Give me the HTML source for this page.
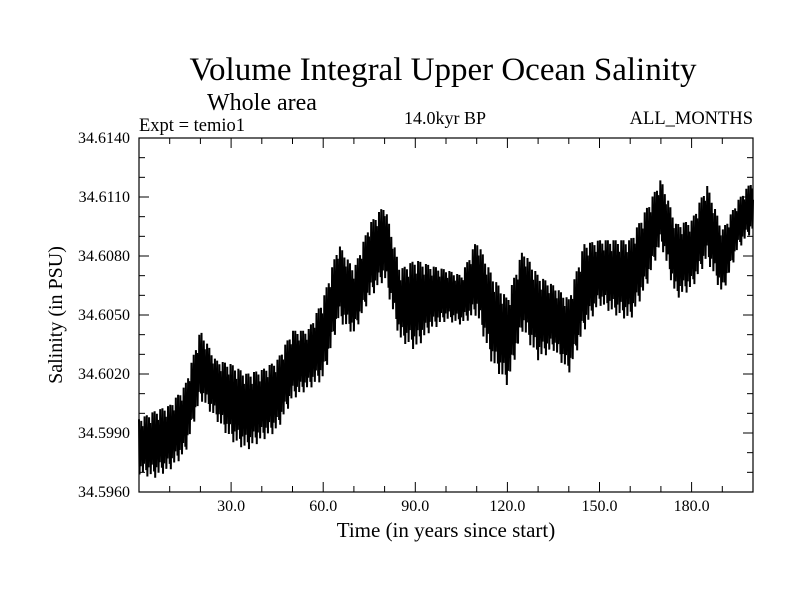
<!DOCTYPE html>
<html><head><meta charset="utf-8"><style>
body{margin:0;background:#fff}
svg{display:block;font-family:"Liberation Serif",serif}
</style></head><body>
<svg width="800" height="600" xmlns="http://www.w3.org/2000/svg">
<text x="443" y="80" font-size="33" text-anchor="middle">Volume Integral Upper Ocean Salinity</text>
<text x="207" y="110" font-size="24">Whole area</text>
<text x="139" y="131" font-size="18.5">Expt = temio1</text>
<text x="445" y="124" font-size="18" text-anchor="middle">14.0kyr BP</text>
<text x="753" y="124" font-size="18.5" text-anchor="end">ALL_MONTHS</text>
<text x="446" y="537" font-size="21" text-anchor="middle">Time (in years since start)</text>
<text transform="translate(62,315) rotate(-90)" font-size="20" text-anchor="middle">Salinity (in PSU)</text>
<g id="plot"></g>
<rect x="139" y="138" width="614" height="354" fill="none" stroke="#000" stroke-width="1.2"/>
<g id="axes"></g>
</svg>
<script>
const years = [0,5,10,15,20,25,30,35,40,45,50,55,60,65,70,75,80,85,90,95,100,105,110,115,120,125,130,135,140,145,150,155,160,165,170,175,180,185,190,195,200];
const upperEnvelope = [34.5997,34.6001,34.6004,34.6014,34.6042,34.6027,34.6025,34.6020,34.6022,34.6027,34.6042,34.6042,34.6058,34.6086,34.6073,34.6096,34.6106,34.6073,34.6078,34.6075,34.6073,34.6070,34.6088,34.6070,34.6058,34.6083,34.6070,34.6065,34.6058,34.6086,34.6088,34.6088,34.6088,34.6103,34.6119,34.6096,34.6098,34.6116,34.6093,34.6108,34.6119];
const lowerEnvelope = [34.5969,34.5967,34.5971,34.5979,34.6007,34.5997,34.5986,34.5981,34.5986,34.5991,34.6007,34.6012,34.6017,34.6047,34.6040,34.6058,34.6068,34.6037,34.6032,34.6042,34.6047,34.6045,34.6050,34.6025,34.6014,34.6042,34.6027,34.6032,34.6020,34.6042,34.6055,34.6050,34.6047,34.6063,34.6086,34.6058,34.6063,34.6078,34.6060,34.6083,34.6093];
const xTickValues = [30,60,90,120,150,180];
const xTickLabels = ["30.0","60.0","90.0","120.0","150.0","180.0"];
const yTickValues = [34.596,34.599,34.602,34.605,34.608,34.611,34.614];
const yTickLabels = ["34.5960","34.5990","34.6020","34.6050","34.6080","34.6110","34.6140"];

const L=139,R=753,T=138,B=492, X0=0,X1=200,Y0=34.596,Y1=34.614;
const sx=v=>L+(v-X0)/(X1-X0)*(R-L);
const sy=v=>B-(v-Y0)/(Y1-Y0)*(B-T);
const NS="http://www.w3.org/2000/svg";
function interp(arr,t){const i=Math.min(Math.floor(t/5),arr.length-2);const f=(t-years[i])/5;return arr[i]+(arr[i+1]-arr[i])*f;}
const pattern=[1,0,0.75,0.15,0.95,0.3,0.85,0.05,0.6,0.2,1,0.4,0.7,0.1];
let d="";const steps=1100;
for(let k=0;k<=steps;k++){const t=X1*k/steps;const hi=interp(upperEnvelope,t),lo=interp(lowerEnvelope,t);
 const v=lo+(hi-lo)*pattern[k%pattern.length];
 d+=(k?"L":"M")+sx(t).toFixed(2)+","+sy(v).toFixed(2);}
const p=document.createElementNS(NS,"path");
p.setAttribute("d",d);p.setAttribute("fill","none");p.setAttribute("stroke","#000");p.setAttribute("stroke-width","2");


document.getElementById("plot").appendChild(p);

const ax=document.getElementById("axes");
function line(x1,y1,x2,y2,name){const l=document.createElementNS(NS,"line");l.setAttribute("x1",x1);l.setAttribute("y1",y1);l.setAttribute("x2",x2);l.setAttribute("y2",y2);l.setAttribute("stroke","#000");l.setAttribute("stroke-width","1");


ax.appendChild(l);}
function text(x,y,s,anchor,name){const e=document.createElementNS(NS,"text");e.setAttribute("x",x);e.setAttribute("y",y);e.setAttribute("font-size","16");e.setAttribute("text-anchor",anchor);e.textContent=s;


ax.appendChild(e);}
for(let v=10;v<X1;v+=10){const x=sx(v),len=(v%30===0)?10:6;line(x,B,x,B-len,"x-tick");line(x,T,x,T+len,"x-tick-top");}
xTickValues.forEach((v,i)=>text(sx(v),511,xTickLabels[i],"middle","x-tick-label"));
for(let i=1;i<18;i++){const v=Y0+i*0.001,y=sy(v),len=(i%3===0)?10:6;line(L,y,L+len,y,"y-tick");line(R,y,R-len,y,"y-tick-right");}
yTickValues.forEach((v,i)=>text(130,sy(v)+5,yTickLabels[i],"end","y-tick-label"));
</script>
</body></html>
